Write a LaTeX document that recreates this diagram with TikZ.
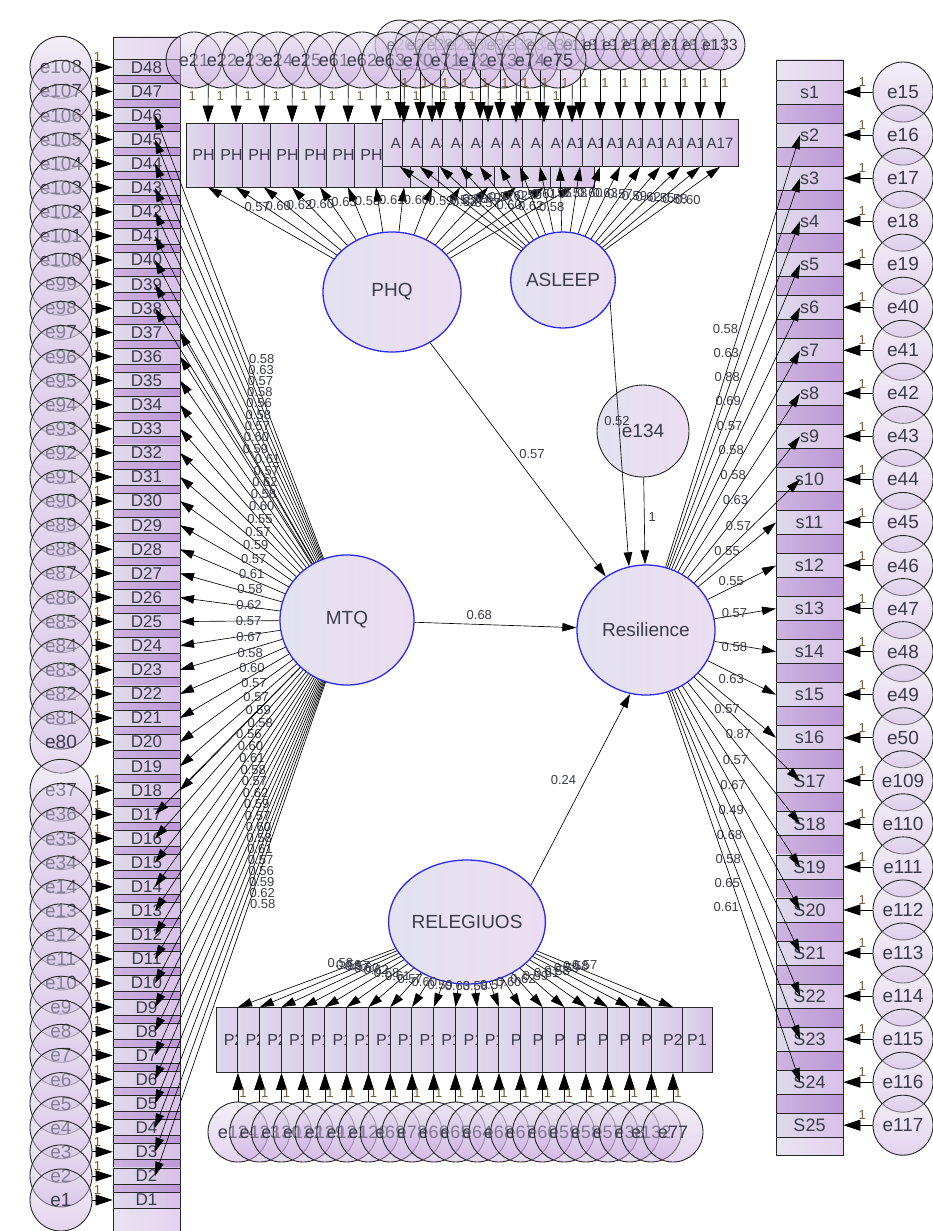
\documentclass[tikz,border=0pt]{standalone}
\usepackage{fontspec}
\setmainfont{Liberation Sans}
\usetikzlibrary{arrows.meta,shapes.geometric}
\definecolor{latblue}{HTML}{2A2AF0}
\definecolor{latA}{HTML}{E2E2F0}
\definecolor{latB}{HTML}{ECDDF1}
\definecolor{errA}{HTML}{E2DCEF}
\definecolor{errB}{HTML}{C4A0DC}
\definecolor{cellA}{HTML}{DEDAEC}
\definecolor{cellB}{HTML}{D9C0E8}
\definecolor{stripA}{HTML}{CDB4E0}
\definecolor{stripB}{HTML}{BC98D6}
\definecolor{colA}{HTML}{E8E4F1}
\definecolor{colB}{HTML}{E4D2EF}
\definecolor{txt}{HTML}{3C3C4C}
\definecolor{onec}{HTML}{7A5A30}
\begin{document}
\begin{tikzpicture}[x=1pt,y=-1pt,
 lat/.style={ellipse, draw=latblue, line width=1.3pt, left color=latA, right color=latB, text=txt, font=\fontsize{19}{19}\selectfont, inner sep=0pt},
 errc/.style={circle, draw=black!85, line width=0.9pt, top color=errA, bottom color=errB, fill opacity=0.45, text opacity=1, text=txt, font=\fontsize{19}{19}\selectfont, inner sep=0pt},
 cell/.style={rectangle, draw=black!85, line width=0.8pt, left color=cellA, right color=cellB, text=txt, inner sep=0pt, font=\fontsize{16}{16}\selectfont},
 strip/.style={draw=black!85, line width=0.8pt, left color=stripA, right color=stripB},
 column/.style={draw=black!85, line width=0.8pt, left color=colA, right color=colB},
 arr/.style={-{Triangle[length=17pt,width=11pt]}, line width=0.7pt, black},
 lt/.style={-{Triangle[length=14pt,width=8.5pt]}, line width=0.65pt, black},
 one/.style={font=\fontsize{13}{13}\selectfont, text=onec, inner sep=0pt},
 ld/.style={font=\fontsize{13}{13}\selectfont, text=txt, inner sep=1pt},
]
\useasboundingbox (0,0) rectangle (933,1231);
\fill[white] (0,0) rectangle (933,1231);

% ---------------- left column D1..D48
\path[column] (113,37) rectangle (180,1240);
\foreach \k in {1,...,47}{
  \pgfmathsetmacro\ya{1200-\k*24.1+8}
  \pgfmathsetmacro\yb{1200-(\k-1)*24.1-8}
  \path[strip] (113,\ya) rectangle (180,\yb);
}
\foreach \k in {1,...,48}{
  \pgfmathsetmacro\yy{1200-(\k-1)*24.1}
  \node[cell, minimum width=67pt, minimum height=16pt, font=\fontsize{17}{17}\selectfont] (D\k) at (146.5,\yy) {D\k};
}
\foreach \k in {48,47,...,20}{
  \pgfmathsetmacro\yy{1200-(\k-1)*24.1}
  \pgfmathtruncatemacro\n{60+\k}
  \node[errc, minimum size=62pt] (eL\k) at (61,\yy) {e\n};
}
\foreach \k in {18,17,...,15}{
  \pgfmathsetmacro\yy{1200-(\k-1)*24.1}
  \pgfmathtruncatemacro\n{19+\k}
  \node[errc, minimum size=62pt] (eL\k) at (61,\yy) {e\n};
}
\foreach \k in {14,13,...,1}{
  \pgfmathsetmacro\yy{1200-(\k-1)*24.1}
  \node[errc, minimum size=62pt] (eL\k) at (61,\yy) {e\k};
}
\foreach \k in {48,47,...,20,18,17,...,1}{
  \draw[arr] (eL\k) -- (D\k) node[one, pos=0.25, above=5pt]{1};
}

% ---------------- right column s1..S25
\path[column] (776,60) rectangle (843,1155);
\foreach \j in {1,...,24}{
  \pgfmathsetmacro\ya{92+(\j-1)*43.05+12}
  \pgfmathsetmacro\yb{92+\j*43.05-12}
  \path[strip] (776,\ya) rectangle (843,\yb);
}
\foreach \j/\n in {1/15,2/16,3/17,4/18,5/19,6/40,7/41,8/42,9/43,10/44,11/45,12/46,13/47,14/48,15/49,16/50,17/109,18/110,19/111,20/112,21/113,22/114,23/115,24/116,25/117}{
  \pgfmathsetmacro\yy{92+(\j-1)*43.05}
  \node[cell, minimum width=67pt, minimum height=24pt, font=\fontsize{18}{18}\selectfont] (s\j) at (809.5,\yy) {\ifnum\j<17 s\j\else S\j\fi};
  \node[errc, minimum size=60pt] (eR\j) at (903,\yy) {e\n};
  \draw[arr] (eR\j) -- (s\j) node[one, pos=0.35, above=5pt]{1};
}

% ---------------- top: PHQ and ASLEEP indicators
\foreach \k/\n in {1/26,2/27,3/28,4/29,5/30,6/31,7/32,8/33,9/39,10/118,11/119,12/125,13/126,14/127,15/128,16/131,17/133}{
  \pgfmathsetmacro\xx{400+20*(\k-1)}
  \node[errc, minimum size=50pt, font=\fontsize{16}{16}\selectfont] (eA\k) at (\xx,45) {e\n};
}
\foreach \k/\n in {1/21,2/22,3/23,4/24,5/25,6/61,7/62,8/63,9/70,10/71,11/72,12/73,13/74,14/75}{
  \pgfmathsetmacro\xx{208+28*(\k-1)}
  \node[errc, minimum size=56pt, font=\fontsize{18}{18}\selectfont] (eP\k) at ({\xx-14},60) {e\n};
}
\foreach \k in {1,...,14}{
  \pgfmathsetmacro\xx{208+28*(\k-1)}
  \node[cell, minimum width=44pt, minimum height=64pt] (PH\k) at (\xx,155) {PH\k};
}
\foreach \k in {1,...,17}{
  \pgfmathsetmacro\xx{400+20*(\k-1)}
  \node[cell, minimum width=36pt, minimum height=47pt, font=\fontsize{15}{15}\selectfont] (A\k) at (\xx,143) {A\k};
}
\foreach \k in {1,...,14}{
  \draw[arr] (eP\k.-60) -- (PH\k.north) node[one, pos=0.3, left=12pt]{1};
}
\foreach \k in {1,...,17}{
  \draw[arr] (eA\k) -- (A\k) node[one, pos=0.25, right=1pt]{1};
}

% ---------------- bottom: RELEGIUOS indicators
\foreach \k/\lab/\n in {1/P29/124,2/P28/123,3/P20/130,4/P19/122,5/P18/129,6/P17/121,7/P16/120,8/P15/69,9/P14/78,10/P13/66,11/P12/65,12/P11/64,13/P10/68,14/P9/67,15/P8/60,16/P7/59,17/P6/58,18/P5/57,19/P4/38,20/P3/132,21/P2/77}{
  \pgfmathsetmacro\xx{238+21.75*(\k-1)}
  \node[cell, minimum width=44pt, minimum height=65pt] (P\k) at (\xx,1040) {\lab};
}
\node[cell, minimum width=30pt, minimum height=65pt] (P22) at (697,1040) {P1};
\foreach \k/\n in {1/124,2/123,3/130,4/122,5/129,6/121,7/120,8/69,9/78,10/66,11/65,12/64,13/68,14/67,15/60,16/59,17/58,18/57,19/38,20/132,21/77}{
  \pgfmathsetmacro\xx{238+21.75*(\k-1)}
  \node[errc, minimum size=60pt, font=\fontsize{18}{18}\selectfont] (eB\k) at (\xx,1132) {e\n};
}
\foreach \k in {1,...,21}{
  \draw[arr] (eB\k) -- (P\k) node[one, pos=0.3, right=1pt]{1};
}

% ---------------- latent variables
\node[lat, minimum width=138pt, minimum height=120pt] (PHQ) at (392,292) {PHQ};
\node[lat, minimum width=92pt, minimum height=96pt] (ASLEEP) at (563,280) {ASLEEP};
\node[lat, circle, draw=black!85, line width=0.9pt, minimum size=92pt] (e134) at (643,431) {e134};
\node[lat, minimum width=134pt, minimum height=130pt] (MTQ) at (347,620) {MTQ};
\node[lat, minimum width=138pt, minimum height=130pt] (Res) at (646,630) {Resilience};
\node[lat, minimum width=130pt, minimum height=124pt] (REL) at (467,922) {RELEGIUOS};

% ---------------- loadings
\foreach \k/\v in {46/0.58,45/0.63,44/0.57,43/0.58,42/0.56,41/0.58,40/0.57,39/0.60,38/0.59,37/0.61,36/0.57,35/0.62,34/0.58,33/0.60,32/0.55,31/0.57,30/0.59,29/0.57,28/0.61,27/0.58,26/0.62,25/0.57,24/0.67,23/0.58,22/0.60,21/0.57,20/0.57,19/0.59,18/0.58,17/0.56,16/0.60,15/0.61,14/0.58,13/0.57,12/0.62,11/0.59,10/0.57,9/0.60,8/0.58,7/0.61,6/0.57,5/0.56,4/0.59,3/0.62,2/0.58}{
  \pgfmathsetmacro\yy{1200-(\k-1)*24.1}
  \pgfmathsetmacro\ex{or(\k>37,\k<18) ? 155 : 180}
  \coordinate (Dt\k) at (\ex,\yy);
  \draw[lt] (MTQ) -- (Dt\k) node[ld, pos=0.45, anchor=west]{\v};
}
\foreach \j/\v in {2/0.58,3/0.63,4/0.88,5/0.69,6/0.57,7/0.58,8/0.58,9/0.63,10/0.57,11/0.55,12/0.55,13/0.57,14/0.58,15/0.63,16/0.57,17/0.87,18/0.57,19/0.67,20/0.49,21/0.68,22/0.58,23/0.65,24/0.61}{
  \pgfmathsetmacro\yy{92+(\j-1)*43.05}
  \pgfmathsetmacro\ex{and(\j>10,\j<17) ? 776 : 800}
  \coordinate (St\j) at (\ex,\yy);
  \draw[lt] (Res) -- (St\j) node[ld, pos=0.55, anchor=east]{\v};
}
\foreach \k/\v in {1/0.57,2/0.60,3/0.62,4/0.60,5/0.63,6/0.58,7/0.61,8/0.60,9/0.59,10/0.63,11/0.57,12/0.60,13/0.62,14/0.58}{
  \draw[lt] (PHQ) -- (PH\k.south) node[ld, pos=0.72, anchor=west]{\v};
}
\foreach \k/\v in {1/0.55,2/0.58,3/0.60,4/0.57,5/0.62,6/0.59,7/0.61,8/0.56,9/0.58,10/0.60,11/0.63,12/0.57,13/0.59,14/0.62,15/0.55,16/0.58,17/0.60}{
  \draw[lt] (ASLEEP) -- (A\k.south) node[ld, pos=0.6, anchor=west]{\v};
}
\foreach \k/\v in {1/0.58,2/0.59,3/0.57,4/0.60,5/0.62,6/0.58,7/0.61,8/0.57,9/0.60,10/0.59,11/0.63,12/0.58,13/0.57,14/0.60,15/0.62,16/0.59,17/0.61,18/0.58,19/0.59,20/0.58,21/0.57}{
  \draw[lt] (REL) -- (P\k.north) node[ld, pos=0.35, anchor=south]{\v};
}

% ---------------- structural paths
\draw[lt] (PHQ) -- (Res) node[ld, pos=0.5, anchor=south west]{0.57};
\draw[lt] (ASLEEP.-25) -- (Res.105);
\draw[lt] (e134) -- (Res) node[ld, pos=0.45, right=3pt]{1};
\draw[lt] (MTQ) -- (Res) node[ld, pos=0.4, above=3pt]{0.68};
\draw[lt] (REL.30) -- (Res.-104) node[ld, pos=0.55, left=8pt]{0.24};
\node[ld] (R2) at (617,421) {0.52};
\end{tikzpicture}
\end{document}
